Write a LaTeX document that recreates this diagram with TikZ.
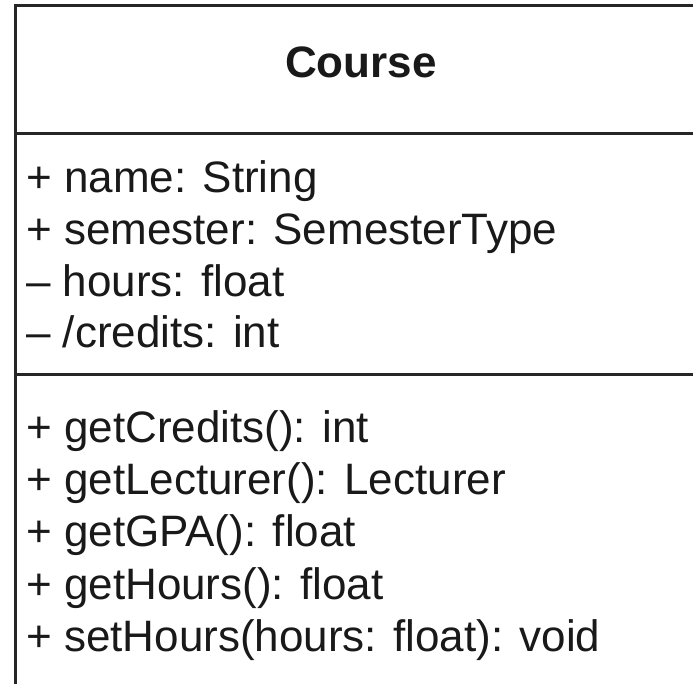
\documentclass[tikz,border=0pt]{standalone}
\usepackage{fontspec}
\setmainfont{Liberation Sans}
\begin{document}
\begin{tikzpicture}[x=1pt,y=-1pt,
  member/.style={anchor=base west,inner sep=0pt,font=\fontsize{44}{52}\selectfont,text=black!90},
  classname/.style={anchor=base,inner sep=0pt,font=\fontsize{44}{52}\selectfont\bfseries,text=black!90},
  frame/.style={line width=3pt,black!85}]
\useasboundingbox (0,0) rectangle (693,683);
\clip (0,0) rectangle (693,683);
% class box, running past the right and bottom edges
\draw[frame] (15.5,5.5) rectangle (760,760);
\draw[frame] (15.5,133.5) -- (760,133.5);
\draw[frame] (15.5,374.5) -- (760,374.5);
% name compartment
\node[classname] (title) at (361,77) {Course};
% attributes
\node[member] (a1) at (26,192) {+ name: String};
\node[member] (a2) at (26,244) {+ semester: SemesterType};
\node[member] (a3) at (26,296) {– hours: float};
\node[member] (a4) at (26,347) {– /credits: int};
% operations
\node[member] (m1) at (26,442) {+ getCredits(): int};
\node[member] (m2) at (26,494) {+ getLecturer(): Lecturer};
\node[member] (m3) at (26,546) {+ getGPA(): float};
\node[member] (m4) at (26,599) {+ getHours(): float};
\node[member] (m5) at (26,651) {+ setHours(hours: float): void};
\end{tikzpicture}
\end{document}
